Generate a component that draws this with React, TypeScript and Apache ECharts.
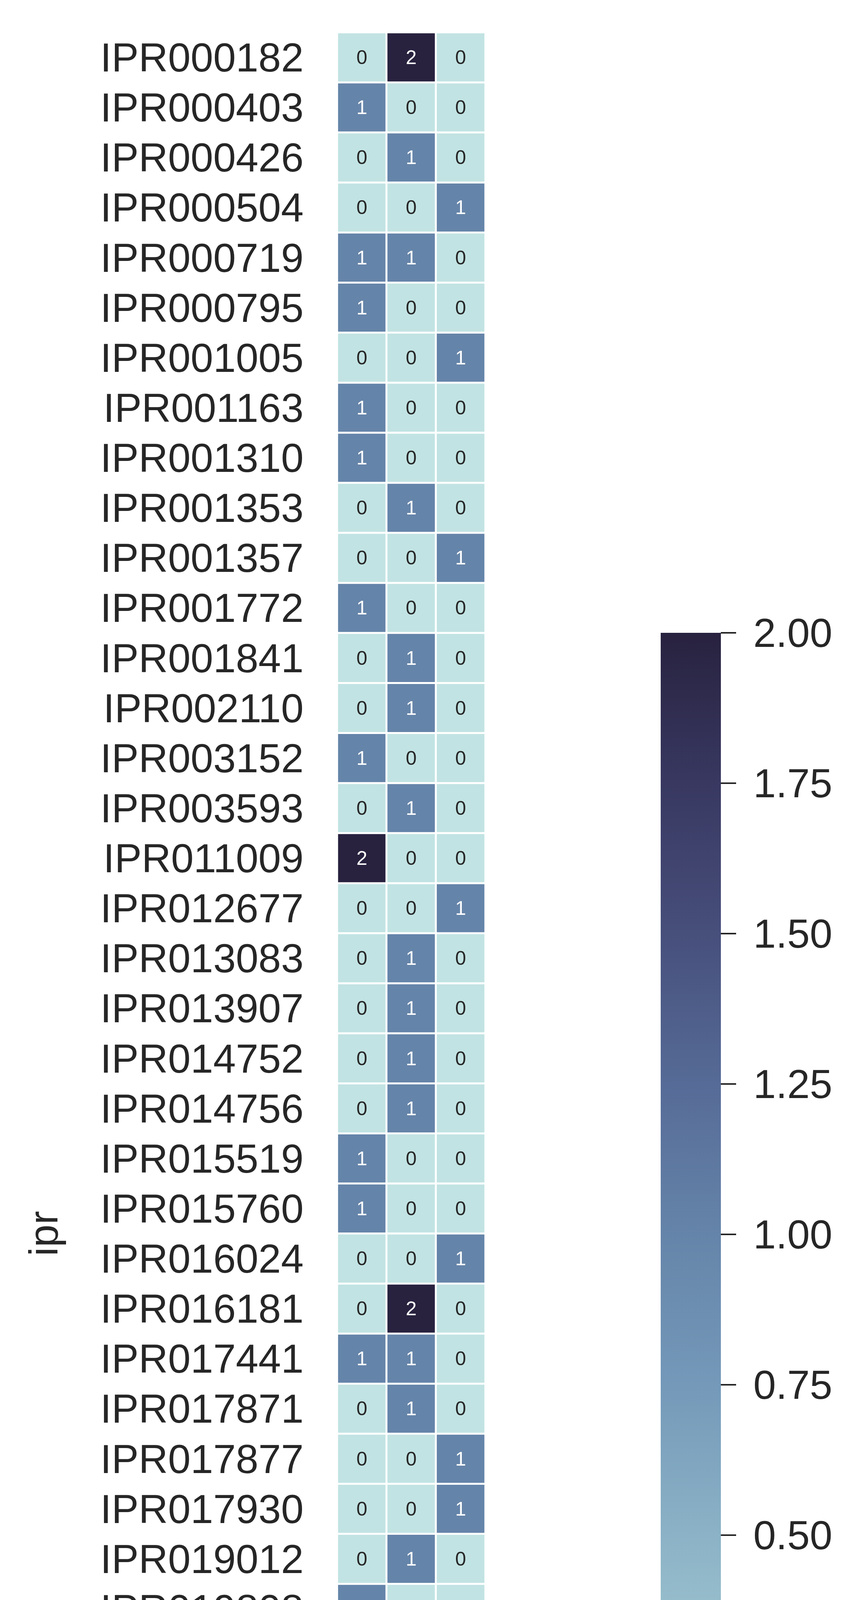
import * as echarts from 'echarts'
import { useEffect, useRef } from 'react'

const species = ['G_intestinalis', 'G_muris', 'S_salmonicida']

const iprs = [
  'IPR000182', 'IPR000403', 'IPR000426', 'IPR000504', 'IPR000719', 'IPR000795', 'IPR001005', 'IPR001163',
  'IPR001310', 'IPR001353', 'IPR001357', 'IPR001772', 'IPR001841', 'IPR002110', 'IPR003152', 'IPR003593',
  'IPR011009', 'IPR012677', 'IPR013083', 'IPR013907', 'IPR014752', 'IPR014756', 'IPR015519', 'IPR015760',
  'IPR016024', 'IPR016181', 'IPR017441', 'IPR017871', 'IPR017877', 'IPR017930', 'IPR019012', 'IPR019808',
  'IPR020683', 'IPR023115', 'IPR023332', 'IPR027417', 'IPR028375', 'IPR029055', 'IPR029063', 'IPR035144',
  'IPR035979', 'IPR036265', 'IPR036420', 'IPR036770', 'IPR036925', 'IPR036940', 'IPR038562', 'IPR039384',
]

// counts per ipr: [G_intestinalis, G_muris, S_salmonicida]
const counts = [
  [0, 2, 0], [1, 0, 0], [0, 1, 0], [0, 0, 1], [1, 1, 0], [1, 0, 0], [0, 0, 1], [1, 0, 0],
  [1, 0, 0], [0, 1, 0], [0, 0, 1], [1, 0, 0], [0, 1, 0], [0, 1, 0], [1, 0, 0], [0, 1, 0],
  [2, 0, 0], [0, 0, 1], [0, 1, 0], [0, 1, 0], [0, 1, 0], [0, 1, 0], [1, 0, 0], [1, 0, 0],
  [0, 0, 1], [0, 2, 0], [1, 1, 0], [0, 1, 0], [0, 0, 1], [0, 0, 1], [0, 1, 0], [1, 0, 0],
  [0, 1, 0], [1, 0, 0], [0, 1, 0], [1, 0, 0], [1, 0, 0], [0, 1, 0], [0, 1, 0], [0, 1, 0],
  [0, 0, 1], [1, 0, 0], [0, 0, 1], [0, 1, 0], [1, 0, 0], [1, 0, 0], [0, 1, 0], [1, 0, 0],
]

const colorTicks = [0, 0.25, 0.5, 0.75, 1, 1.25, 1.5, 1.75, 2]
const palette = ['#c2e3e3', '#a3c9d2', '#8bb2c6', '#7499b9', '#6584a9', '#566b97', '#474f7b', '#383861', '#28223f']

const font = 'Liberation Sans, Arial, sans-serif'
const ink = '#262626'

export default function App() {
  const ref = useRef<HTMLDivElement>(null)

  useEffect(() => {
    document.body.style.margin = '0'
    const el = ref.current
    if (!el) return
    const chart = echarts.init(el, null, { renderer: 'svg' })

    const data = []
    counts.forEach((row, r) => {
      row.forEach((v, c) => {
        data.push({ value: [c, r, v], label: { color: v > 0 ? '#ffffff' : ink } })
      })
    })

    chart.setOption({
      animation: false,
      backgroundColor: '#ffffff',
      textStyle: { fontFamily: font },
      grid: [
        { left: 863, top: 83, width: 379, height: 6150 },
        { left: 1691, top: 1620, width: 154, height: 3080 },
      ],
      xAxis: [
        {
          type: 'category',
          gridIndex: 0,
          data: species,
          position: 'bottom',
          axisLine: { show: false },
          axisTick: { show: false },
          axisLabel: { interval: 0, rotate: 90, fontSize: 104, color: ink, margin: 94, fontFamily: font },
          name: 'sp',
          nameLocation: 'middle',
          nameGap: 905,
          nameTextStyle: { fontSize: 104, color: ink, fontFamily: font },
        },
        { type: 'category', gridIndex: 1, data: [''], show: false },
      ],
      yAxis: [
        {
          type: 'category',
          gridIndex: 0,
          data: iprs,
          inverse: true,
          axisLine: { show: false },
          axisTick: { show: false },
          axisLabel: { interval: 0, fontSize: 104, color: ink, margin: 86, fontFamily: font },
          name: 'ipr',
          nameLocation: 'middle',
          nameGap: 700,
          nameRotate: 90,
          nameTextStyle: { fontSize: 104, color: ink, fontFamily: font },
        },
        {
          type: 'value',
          gridIndex: 1,
          position: 'right',
          min: 0,
          max: 2,
          interval: 0.25,
          axisLine: { show: false },
          axisTick: { show: true, length: 39, lineStyle: { color: ink, width: 4 } },
          splitLine: { show: false },
          axisLabel: {
            fontSize: 104,
            color: ink,
            margin: 83,
            fontFamily: font,
            formatter: (v: number) => v.toFixed(2),
          },
        },
      ],
      visualMap: {
        show: false,
        seriesIndex: 0,
        min: 0,
        max: 2,
        dimension: 2,
        inRange: { color: palette },
      },
      series: [
        {
          type: 'heatmap',
          xAxisIndex: 0,
          yAxisIndex: 0,
          data,
          itemStyle: { borderColor: '#ffffff', borderWidth: 5 },
          label: { show: true, fontSize: 50, fontFamily: font, formatter: (p: any) => `${p.value[2]}` },
        },
        {
          type: 'bar',
          xAxisIndex: 1,
          yAxisIndex: 1,
          data: [colorTicks[colorTicks.length - 1]],
          barWidth: '100%',
          itemStyle: {
            color: new echarts.graphic.LinearGradient(
              0, 1, 0, 0,
              palette.map((c, i) => ({ offset: i / (palette.length - 1), color: c })),
            ),
          },
          silent: true,
        },
      ],
    })

    return () => chart.dispose()
  }, [])

  return <div ref={ref} style={{ width: 2219, height: 7267 }} />
}
